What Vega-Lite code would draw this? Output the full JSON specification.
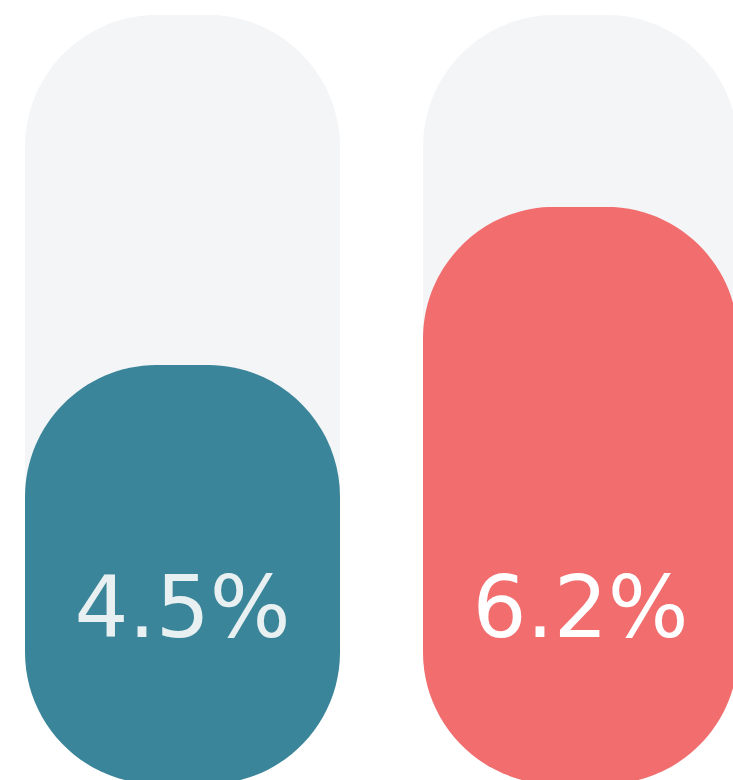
{
  "$schema": "https://vega.github.io/schema/vega-lite/v6.json",
  "width": 733,
  "height": 784,
  "padding": 0,
  "autosize": {"type": "none"},
  "background": "#ffffff",
  "config": {"view": {"stroke": null}},
  "data": {
    "values": [
      {"group": "A", "value": 4.5, "max": 8.26, "label": "4.5%", "color": "#3a8599", "textColor": "#e9f0f2"},
      {"group": "B", "value": 6.2, "max": 8.26, "label": "6.2%", "color": "#f16d6e", "textColor": "#ffffff"}
    ]
  },
  "encoding": {
    "x": {
      "field": "group",
      "type": "nominal",
      "axis": null,
      "scale": {"range": [25, 738], "paddingInner": 0.2085, "paddingOuter": 0}
    }
  },
  "layer": [
    {
      "mark": {"type": "bar", "cornerRadius": 132, "color": "#f4f5f7", "clip": false},
      "encoding": {
        "y": {"field": "max", "type": "quantitative", "axis": null, "scale": {"domain": [0, 8.42], "nice": false, "zero": true}}
      }
    },
    {
      "mark": {"type": "bar", "cornerRadius": 132},
      "encoding": {
        "y": {"field": "value", "type": "quantitative"},
        "color": {"field": "color", "type": "nominal", "scale": null, "legend": null}
      }
    },
    {
      "mark": {"type": "text", "font": "DejaVu Sans", "fontSize": 85, "baseline": "alphabetic", "align": "center", "dy": -147},
      "encoding": {
        "y": {"datum": 0, "type": "quantitative"},
        "text": {"field": "label"},
        "color": {"field": "textColor", "type": "nominal", "scale": null, "legend": null}
      }
    }
  ]
}
